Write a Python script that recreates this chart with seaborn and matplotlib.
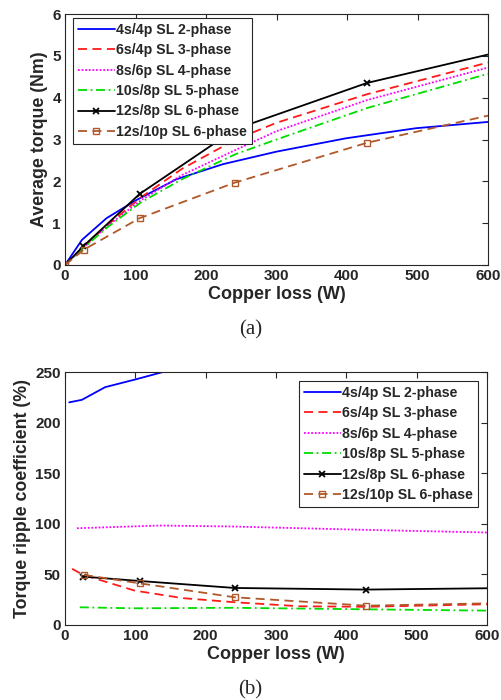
import matplotlib
matplotlib.use("Agg")
import matplotlib.pyplot as plt
import seaborn as sns
import pandas as pd

sns.set_style("white")
plt.rcParams['font.family'] = ['Liberation Sans', 'DejaVu Sans']
plt.rcParams['font.weight'] = 'bold'

labels = ["4s/4p SL 2-phase", "6s/4p SL 3-phase", "8s/6p SL 4-phase",
          "10s/8p SL 5-phase", "12s/8p SL 6-phase", "12s/10p SL 6-phase"]

# (a) Average torque vs copper loss
ta_x_2ph = [0, 24, 59, 101, 158, 224, 300, 399, 498, 600]
ta_y_2ph = [0, 0.60, 1.12, 1.55, 2.05, 2.41, 2.71, 3.03, 3.27, 3.42]
ta_x_3ph = [0, 27, 60, 108, 166, 242, 300, 428, 600]
ta_y_3ph = [0, 0.45, 0.95, 1.62, 2.30, 3.00, 3.40, 4.08, 4.84]
ta_x_4ph = [0, 27, 60, 108, 166, 242, 300, 428, 600]
ta_y_4ph = [0, 0.43, 0.93, 1.55, 2.15, 2.75, 3.20, 3.94, 4.72]
ta_x_5ph = [0, 27, 60, 108, 166, 242, 300, 428, 600]
ta_y_5ph = [0, 0.42, 0.90, 1.50, 2.05, 2.65, 3.00, 3.75, 4.57]
ta_x_6ph = [0, 26, 106, 242, 428, 600]
ta_y_6ph = [0, 0.45, 1.70, 3.25, 4.35, 5.03]
ta_x_6ph10 = [0, 27, 106, 241, 428, 600]
ta_y_6ph10 = [0, 0.37, 1.12, 1.97, 2.92, 3.57]

# (b) Torque ripple coefficient vs copper loss
tr_x_2ph = [6, 24, 57, 102, 142, 200]
tr_y_2ph = [220, 222.5, 235, 243, 250.5, 262]
tr_x_3ph = [10, 26, 99, 168, 241, 334, 428, 600]
tr_y_3ph = [55.5, 49.5, 34, 26.5, 22.5, 18.5, 18, 20.5]
tr_x_4ph = [17, 135, 239, 428, 600]
tr_y_4ph = [95.6, 98.3, 97.3, 94.0, 91.4]
tr_x_5ph = [21, 97, 239, 428, 600]
tr_y_5ph = [17.5, 16.5, 17.0, 15.5, 14.2]
tr_x_6ph = [26, 106, 241, 428, 600]
tr_y_6ph = [47.8, 43.5, 36.6, 35.0, 36.3]
tr_x_6ph10 = [27, 106, 241, 428, 600]
tr_y_6ph10 = [49.5, 41.2, 27.4, 19.1, 21.4]

styles = [
    dict(color="#0000ff", linestyle="-", marker=None),
    dict(color="#ff1a1a", linestyle=(0, (5, 3)), marker=None),
    dict(color="#ff00ff", linestyle=(0, (1, 1)), marker=None),
    dict(color="#00dd00", linestyle=(0, (5, 2, 1, 2)), marker=None),
    dict(color="#000000", linestyle="-", marker="x", markersize=4.5,
         markeredgewidth=1.3, markeredgecolor="#000000"),
    dict(color="#b0582a", linestyle=(0, (5, 3)), marker="s", markersize=5,
         markerfacecolor="none", markeredgewidth=1.0, markeredgecolor="#b0582a"),
]

fig = plt.figure(figsize=(5.01, 7.0), dpi=100)
ax1 = fig.add_axes([65/501, 1-265/700, 423/501, 251/700])
ax2 = fig.add_axes([65/501, 1-625/700, 422/501, 253/700])

series_a = [(ta_x_2ph, ta_y_2ph), (ta_x_3ph, ta_y_3ph), (ta_x_4ph, ta_y_4ph),
            (ta_x_5ph, ta_y_5ph), (ta_x_6ph, ta_y_6ph), (ta_x_6ph10, ta_y_6ph10)]
series_b = [(tr_x_2ph, tr_y_2ph), (tr_x_3ph, tr_y_3ph), (tr_x_4ph, tr_y_4ph),
            (tr_x_5ph, tr_y_5ph), (tr_x_6ph, tr_y_6ph), (tr_x_6ph10, tr_y_6ph10)]

for ax, series in [(ax1, series_a), (ax2, series_b)]:
    for (xs, ys), lab, st in zip(series, labels, styles):
        df = pd.DataFrame({"x": xs, "y": ys})
        kw = dict(st)
        if kw.get("marker"):
            kw["markevery"] = list(range(len(xs) - 1))
        sns.lineplot(data=df, x="x", y="y", ax=ax, label=lab, sort=False,
                     linewidth=1.3, **kw)

def style_axes(ax, ylim, yticks, ylabel):
    ax.set_xlim(0, 600)
    ax.set_ylim(*ylim)
    ax.set_xticks(range(0, 601, 100))
    ax.set_yticks(yticks)
    ax.tick_params(direction="in", top=True, right=True, length=4, width=0.8,
                   labelsize=11, colors="#262626", pad=3)
    for lbl in ax.get_xticklabels() + ax.get_yticklabels():
        lbl.set_fontweight("bold")
    for sp in ax.spines.values():
        sp.set_color("#262626")
        sp.set_linewidth(0.8)
    ax.set_xlabel("Copper loss (W)", fontsize=13, fontweight="bold", color="#262626", labelpad=2)
    ax.set_ylabel(ylabel, fontsize=12.8, fontweight="bold", color="#262626", labelpad=3)

style_axes(ax1, (0, 6), range(0, 7), "Average torque (Nm)")
style_axes(ax2, (0, 250), range(0, 251, 50), "Torque ripple coefficient (%)")

leg_kw = dict(frameon=True, fancybox=False, edgecolor="#262626",
              handlelength=2.6, handletextpad=0.1, labelspacing=0.45,
              borderpad=0.35, borderaxespad=0, framealpha=1,
              prop={"weight": "bold", "size": 10.2})
l1 = ax1.legend(loc="upper left", bbox_to_anchor=(0.019, 0.984), **leg_kw)
l2 = ax2.legend(loc="upper right", bbox_to_anchor=(0.979, 0.964), **leg_kw)
for l in (l1, l2):
    l.get_frame().set_linewidth(0.8)

fig.text(0.5, 1-330/700, "(a)", ha="center", va="center", fontsize=15,
         family=["Liberation Serif"], fontweight="normal")
fig.text(0.5, 1-690/700, "(b)", ha="center", va="center", fontsize=15,
         family=["Liberation Serif"], fontweight="normal")

fig.savefig("out.png", dpi=100)
